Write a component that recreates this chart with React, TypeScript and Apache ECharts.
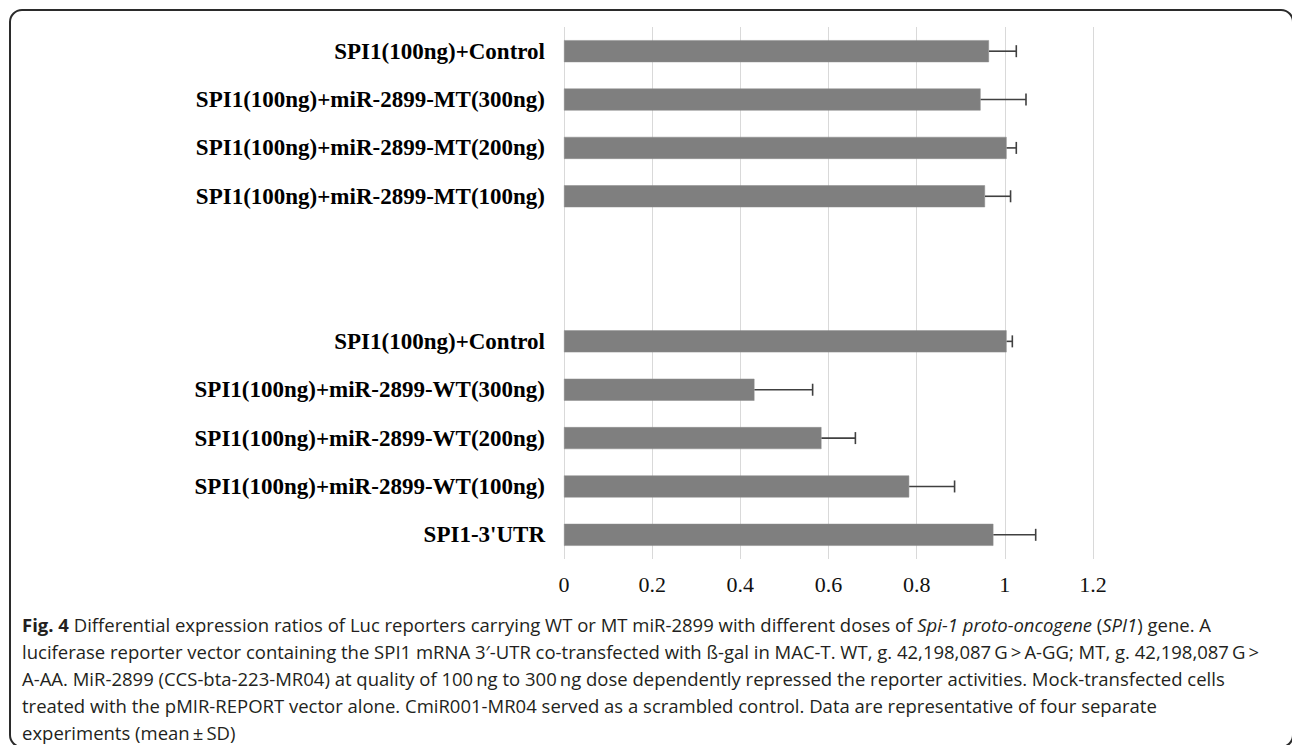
import React, { useEffect, useRef } from "react";
import * as echarts from "echarts";

const categories = [
  "SPI1(100ng)+Control",
  "SPI1(100ng)+miR-2899-MT(300ng)",
  "SPI1(100ng)+miR-2899-MT(200ng)",
  "SPI1(100ng)+miR-2899-MT(100ng)",
  "",
  "",
  "SPI1(100ng)+Control",
  "SPI1(100ng)+miR-2899-WT(300ng)",
  "SPI1(100ng)+miR-2899-WT(200ng)",
  "SPI1(100ng)+miR-2899-WT(100ng)",
  "SPI1-3'UTR",
];
const means: (number | null)[] = [0.964, 0.945, 1.004, 0.955, null, null, 1.004, 0.432, 0.584, 0.783, 0.974];
const sds: (number | null)[] = [0.062, 0.103, 0.022, 0.058, null, null, 0.013, 0.132, 0.077, 0.103, 0.096];
const xTicks = [0, 0.2, 0.4, 0.6, 0.8, 1, 1.2];

const captionLines = [
  "{b|Fig. 4} Differential expression ratios of Luc reporters carrying WT or MT miR-2899 with different doses of {i|Spi-1 proto-oncogene} ({i|SPI1}) gene. A",
  "luciferase reporter vector containing the SPI1 mRNA 3\u2032-UTR co-transfected with \u00df-gal in MAC-T. WT, g. 42,198,087\u2009G\u2009>\u2009A-GG; MT, g. 42,198,087\u2009G\u2009>",
  "A-AA. MiR-2899 (CCS-bta-223-MR04) at quality of 100\u2009ng to 300\u2009ng dose dependently repressed the reporter activities. Mock-transfected cells",
  "treated with the pMIR-REPORT vector alone. CmiR001-MR04 served as a scrambled control. Data are representative of four separate",
  "experiments (mean\u2009\u00b1\u2009SD)",
];

export default function App() {
  const ref = useRef<HTMLDivElement>(null);
  useEffect(() => {
    document.body.style.margin = "0";
    const chart = echarts.init(ref.current!, null, { renderer: "svg" });
    const errData = means
      .map((m, i) => (m == null ? null : [i, m, sds[i] as number]))
      .filter((d) => d != null);
    const capFont = '"Open Sans", sans-serif';
    const capSize = 18.5;
    const capLH = 27;
    chart.setOption({
      animation: false,
      backgroundColor: "#ffffff",
      grid: { left: 564, right: 199, top: 27, bottom: 186, containLabel: false },
      xAxis: {
        type: "value",
        min: xTicks[0],
        max: xTicks[xTicks.length - 1],
        interval: 0.2,
        axisLine: { show: false },
        axisTick: { show: false },
        splitLine: { show: true, lineStyle: { color: "#d9d9d9", width: 1 } },
        axisLabel: {
          margin: 14,
          fontFamily: '"Liberation Serif", serif',
          fontSize: 22,
          color: "#111",
          formatter: (v: number) => String(Math.round(v * 10) / 10),
        },
      },
      yAxis: {
        type: "category",
        inverse: true,
        data: categories.map((_, i) => String(i)),
        axisLine: { show: false },
        axisTick: { show: false },
        splitLine: { show: false },
        axisLabel: {
          margin: 19,
          fontFamily: '"Liberation Serif", serif',
          fontWeight: "bold",
          fontSize: 23,
          color: "#000",
          formatter: (_v: string, i: number) => categories[i],
        },
      },
      series: [
        {
          type: "bar",
          data: means.map((m) => (m == null ? "-" : m)),
          barWidth: 22,
          itemStyle: { color: "#7f7f7f", borderColor: "#8c8c8c", borderWidth: 0.5 },
          silent: true,
        },
        {
          type: "custom",
          data: errData,
          encode: { x: 1, y: 0 },
          silent: true,
          z: 5,
          renderItem: (params: any, api: any) => {
            const cat = api.value(0);
            const m = api.value(1);
            const s = api.value(2);
            const p0 = api.coord([m, cat]);
            const p1 = api.coord([m + s, cat]);
            const h = 6;
            const st = { stroke: "#404040", lineWidth: 1.6 };
            return {
              type: "group",
              children: [
                { type: "line", shape: { x1: p0[0], y1: p0[1], x2: p1[0], y2: p1[1] }, style: st },
                { type: "line", shape: { x1: p1[0], y1: p1[1] - h, x2: p1[0], y2: p1[1] + h }, style: st },
              ],
            };
          },
        },
      ],
      graphic: [
        {
          type: "rect",
          shape: { x: 10, y: 10, width: 1283, height: 737, r: 12 },
          style: { fill: "none", stroke: "#2b2b2b", lineWidth: 2 },
          silent: true,
        },
        ...captionLines.map((t, i) => ({
          type: "text",
          x: 22,
          y: 624 + i * capLH,
          silent: true,
          style: {
            text: t,
            fontFamily: capFont,
            fontSize: capSize,
            fill: "#231f20",
            verticalAlign: "middle",
            rich: {
              b: { fontFamily: capFont, fontSize: capSize, fontWeight: "bold", fill: "#231f20" },
              i: { fontFamily: capFont, fontSize: capSize, fontStyle: "italic", fill: "#231f20" },
            },
          },
        })),
      ],
    });
    return () => chart.dispose();
  }, []);
  return (
    <div
      ref={ref}
      style={{ position: "fixed", left: 0, top: 0, width: 1292, height: 745 }}
    />
  );
}
